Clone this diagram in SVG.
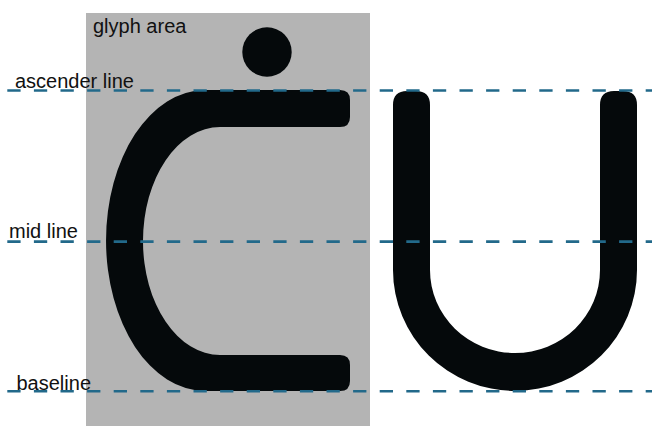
<svg xmlns="http://www.w3.org/2000/svg" width="652" height="426" viewBox="0 0 652 426">
<style>
.glyph{fill:#05090b}
.guide{stroke:#22698a;stroke-width:2.6;stroke-dasharray:13.3 13.3;fill:none}
.lbl{font-family:"Liberation Sans",Arial,sans-serif;font-size:20px;fill:#111}
</style>
<rect width="652" height="426" fill="#ffffff"/>
<g id="glyph-area">
<rect x="86" y="13" width="284" height="413" fill="#b4b4b4"/>
<text class="lbl" x="93" y="33">glyph area</text>
</g>
<g id="dot">
<circle class="glyph" cx="267" cy="52" r="24.7"/>
</g>
<g id="glyph-c">
<path class="glyph" d="M 340,90 L 205,90 A 99,150.5 0 0 0 205,391 L 340,391 Q 350,391 350,381 L 350,365 Q 350,355 340,355 L 220,355 A 77,114 0 0 1 220,127 L 340,127 Q 350,127 350,117 L 350,100 Q 350,90 340,90 Z"/>
</g>
<g id="glyph-u">
<path class="glyph" d="M 393,270 L 393,105 Q 393,91 407,91 L 416,91 Q 430,91 430,105 L 430,270 A 85,83 0 0 0 600,270 L 600,105 Q 600,91 614,91 L 623,91 Q 637,91 637,105 L 637,270 A 122,121 0 0 1 393,270 Z"/>
</g>
<g id="connectors">
<line class="guide" x1="7.3" y1="90.5" x2="652" y2="90.5"/>
<line class="guide" x1="7.3" y1="241.6" x2="652" y2="241.6"/>
<line class="guide" x1="7.3" y1="391.3" x2="652" y2="391.3"/>
</g>
<g id="labels">
<text class="lbl" x="15" y="88">ascender line</text>
<text class="lbl" x="9" y="237.5">mid line</text>
<text class="lbl" x="16.5" y="390">baseline</text>
</g>
</svg>
